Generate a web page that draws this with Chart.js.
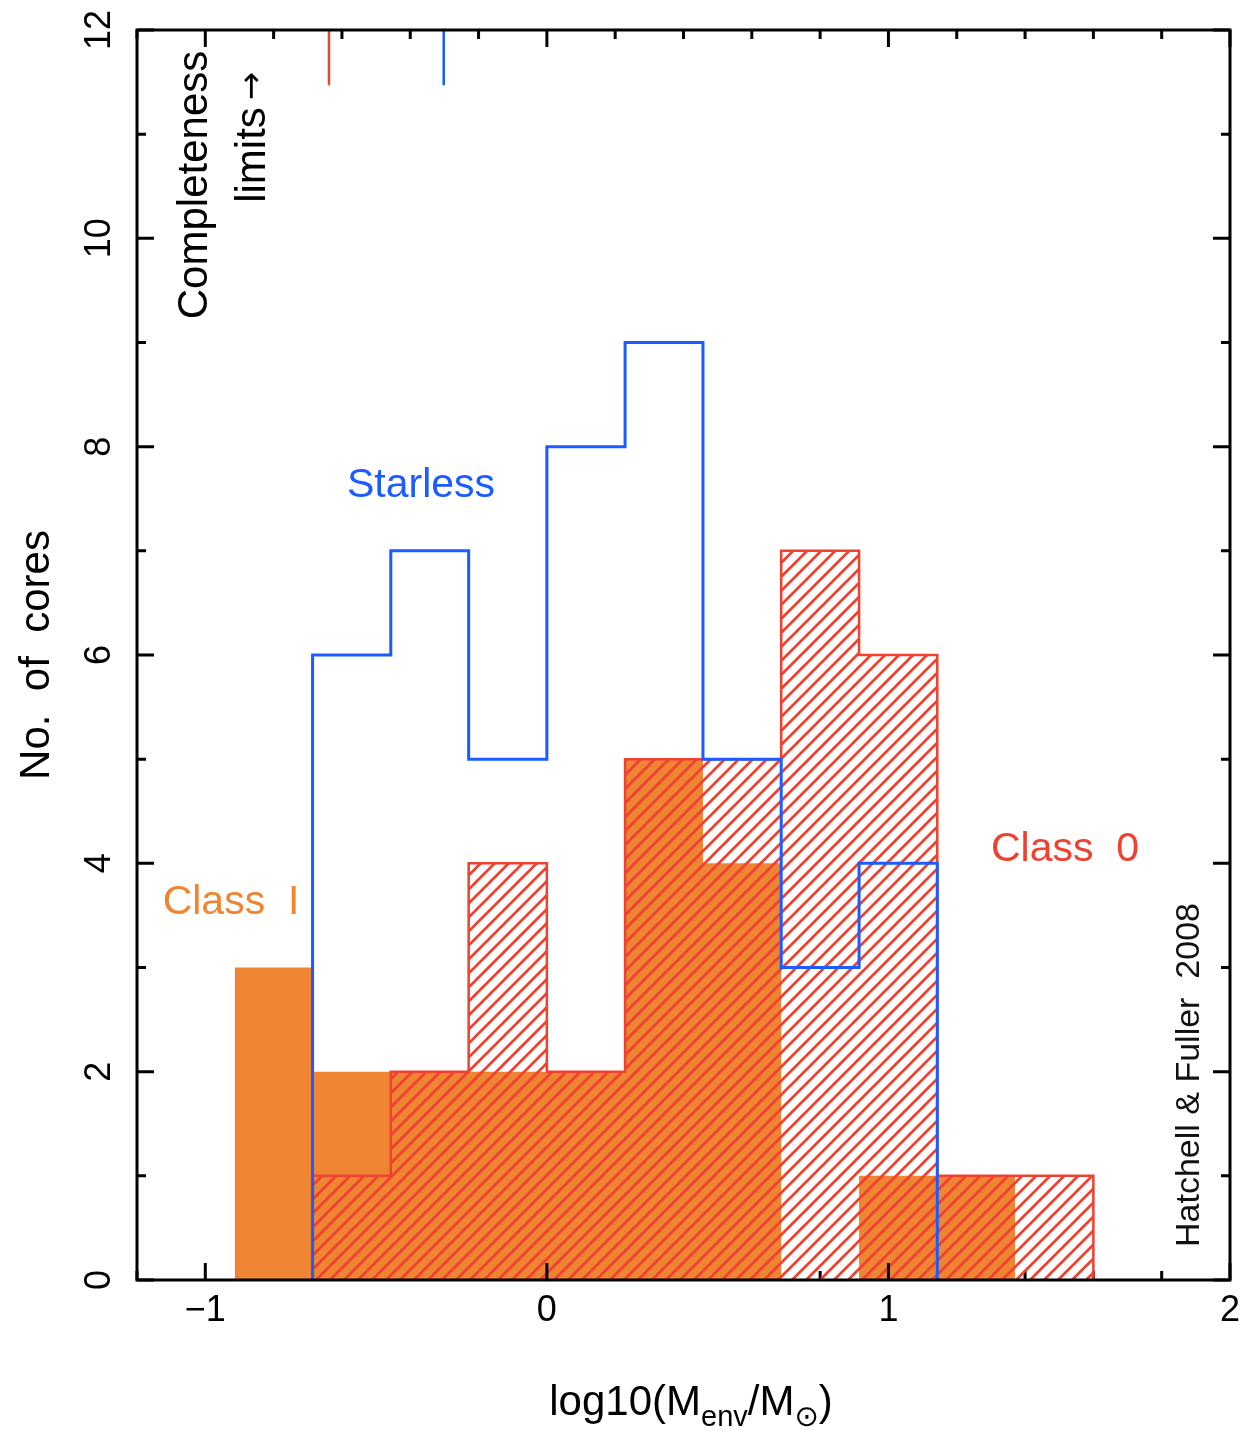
<!DOCTYPE html>
<html><head><meta charset="utf-8">
<script src="https://cdn.jsdelivr.net/npm/chart.js@4.4.1/dist/chart.umd.min.js"></script>
<style>html,body{margin:0;padding:0;background:#fff}#wrap{width:1242px;height:1431px;position:relative}</style>
</head><body><div id="wrap"><canvas id="c"></canvas></div>
<script>
// ---- data ----
const binEdges = [-0.914, -0.686, -0.457, -0.229, 0, 0.229, 0.457, 0.686, 0.914, 1.143, 1.371, 1.6];
const classI   = [3, 2, 2, 2, 2, 5, 4, 0, 1, 1, 0];
const class0   = [0, 1, 2, 4, 2, 5, 5, 7, 6, 1, 1];
const starless = [0, 6, 7, 5, 8, 9, 5, 3, 4, 0, 0];
const completenessX = [-0.638, -0.302];      // Class 0 (red), Starless (blue)
const completenessY = [12, 11.47];
const xTickLabels = [-1, 0, 1, 2];
const yTickLabels = [0, 2, 4, 6, 8, 10, 12];
const xMinorStep = 0.2, yMinorStep = 1;

const ORANGE = '#EF8533', RED = '#EE4130', BLUE = '#1A5CFF';

function histPoints(counts){
  let i = counts.findIndex(v => v > 0);
  let j = counts.length - 1; while (j >= 0 && counts[j] === 0) j--;
  const pts = [{x: binEdges[i], y: 0}];
  for (let k = i; k <= j; k++) pts.push({x: binEdges[k], y: counts[k]});
  pts.push({x: binEdges[j + 1], y: 0});
  return pts;
}

function makeHatch(){
  const s = 14, c = document.createElement('canvas'); c.width = s; c.height = s;
  const g = c.getContext('2d');
  g.strokeStyle = RED; g.lineWidth = 2.7;
  g.beginPath();
  g.moveTo(-s, s); g.lineTo(s, -s);
  g.moveTo(-1, s + 1); g.lineTo(s + 1, -1);
  g.moveTo(0, 2 * s); g.lineTo(2 * s, 0);
  g.stroke();
  return g.createPattern(c, 'repeat');
}

function rotText(ctx, txt, x, y, font, color){
  ctx.save(); ctx.translate(x, y); ctx.rotate(-Math.PI / 2);
  ctx.font = font; ctx.fillStyle = color; ctx.textAlign = 'center'; ctx.textBaseline = 'middle';
  ctx.fillText(txt, 0, 0); ctx.restore();
}

function isMajor(v, list){ return list.some(t => Math.abs(t - v) < 1e-6); }

function drawTicks(chart, major){
  const {ctx, chartArea: a, scales: {x, y}} = chart;
  ctx.save(); ctx.strokeStyle = '#000'; ctx.lineWidth = 3; ctx.lineCap = 'butt';
  ctx.beginPath();
  for (let v = x.min; v <= x.max + 1e-9; v += xMinorStep){
    const vv = Math.round(v * 10) / 10;
    const m = isMajor(vv, xTickLabels);
    if (m !== major) continue;
    const L = m ? 17 : 9, px = x.getPixelForValue(vv);
    ctx.moveTo(px, a.bottom); ctx.lineTo(px, a.bottom - L);
    ctx.moveTo(px, a.top); ctx.lineTo(px, a.top + L);
  }
  for (let v = y.min; v <= y.max + 1e-9; v += yMinorStep){
    const m = isMajor(v, yTickLabels);
    if (m !== major) continue;
    const L = m ? 17 : 9, py = y.getPixelForValue(v);
    ctx.moveTo(a.left, py); ctx.lineTo(a.left + L, py);
    ctx.moveTo(a.right, py); ctx.lineTo(a.right - L, py);
  }
  ctx.stroke(); ctx.restore();
}

const framePlugin = {
  id: 'frame',
  beforeDatasetsDraw(chart){ drawTicks(chart, false); },
  afterDatasetsDraw(chart){
    const {ctx, chartArea: a, scales: {x, y}} = chart;
    drawTicks(chart, true);
    ctx.save();
    ctx.strokeStyle = '#000'; ctx.lineWidth = 3;
    ctx.strokeRect(a.left, a.top, a.right - a.left, a.bottom - a.top);
    // tick labels
    ctx.fillStyle = '#000'; ctx.font = '36px "Liberation Sans"'; ctx.textAlign = 'center'; ctx.textBaseline = 'middle';
    xTickLabels.forEach(v => ctx.fillText(v < 0 ? '\u2212' + Math.abs(v) : String(v), x.getPixelForValue(v), 1311));
    yTickLabels.forEach(v => rotText(ctx, String(v), 100, y.getPixelForValue(v), '36px "Liberation Sans"', '#000'));
    // axis titles
    rotText(ctx, 'No.  of  cores', 37, 655, '42px "Liberation Sans"', '#000');
    // x title with subscripts
    const parts = [['log10(M', 42, 0], ['env', 29, 11], ['/M', 42, 0], ['\u2299', 29, 11], [')', 42, 0]];
    let total = 0;
    parts.forEach(p => { ctx.font = p[1] + 'px "Liberation Sans", "DejaVu Sans"'; total += ctx.measureText(p[0]).width; });
    let cx = 691 - total / 2;
    ctx.textAlign = 'left'; ctx.textBaseline = 'alphabetic';
    parts.forEach(p => { ctx.font = p[1] + 'px "Liberation Sans", "DejaVu Sans"'; ctx.fillText(p[0], cx, 1415 + p[2]); cx += ctx.measureText(p[0]).width; });
    // annotations
    ctx.textAlign = 'center'; ctx.textBaseline = 'middle';
    ctx.font = '41px "Liberation Sans"';
    ctx.fillStyle = BLUE; ctx.fillText('Starless', 421, 486);
    ctx.fillStyle = ORANGE; ctx.fillText('Class  I', 231, 903);
    ctx.fillStyle = RED; ctx.fillText('Class  0', 1065, 850);
    rotText(ctx, 'Hatchell & Fuller  2008', 1190, 1075, '34px "Liberation Sans"', '#111');
    rotText(ctx, 'Completeness', 195, 185, '42px "Liberation Sans"', '#000');
    rotText(ctx, 'limits', 253, 155, '42px "Liberation Sans"', '#000');
    rotText(ctx, '\u2192', 253, 86, '34px "DejaVu Sans"', '#000');
    ctx.restore();
  }
};

const hatch = makeHatch();

new Chart(document.getElementById('c'), {
  type: 'line',
  data: {
    datasets: [
      {label: 'Starless', data: histPoints(starless), stepped: 'before', borderColor: BLUE, borderWidth: 3, fill: false, pointRadius: 0},
      {label: 'Class 0', data: histPoints(class0), stepped: 'before', borderColor: RED, borderWidth: 2.5, backgroundColor: hatch, fill: 'origin', pointRadius: 0},
      {label: 'Class I', data: histPoints(classI), stepped: 'before', borderColor: 'rgba(0,0,0,0)', borderWidth: 0, backgroundColor: ORANGE, fill: 'origin', pointRadius: 0},
      {label: 'Class 0 limit', data: completenessY.map(v => ({x: completenessX[0], y: v})), borderColor: RED, borderWidth: 2.5, pointRadius: 0, fill: false},
      {label: 'Starless limit', data: completenessY.map(v => ({x: completenessX[1], y: v})), borderColor: BLUE, borderWidth: 2.5, pointRadius: 0, fill: false}
    ]
  },
  options: {
    responsive: true, maintainAspectRatio: false, animation: false,
    layout: {padding: {left: 137, right: 12, top: 30, bottom: 151}},
    plugins: {legend: {display: false}, tooltip: {enabled: false}},
    scales: {
      x: {type: 'linear', min: -1.2, max: 2, display: false},
      y: {type: 'linear', min: 0, max: 12, display: false}
    }
  },
  plugins: [framePlugin]
});
</script>
</body></html>
